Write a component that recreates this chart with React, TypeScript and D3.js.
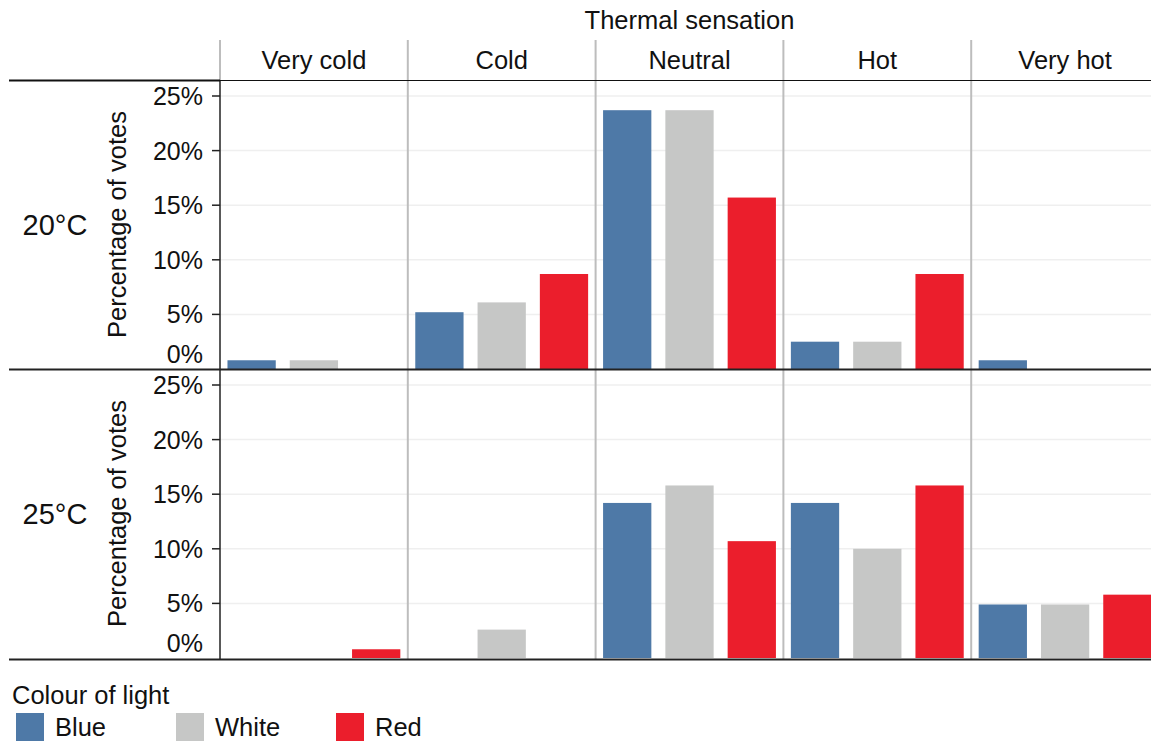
import React from 'react';
import * as d3 from 'd3';

const categories = ['Very cold', 'Cold', 'Neutral', 'Hot', 'Very hot'];
const lights = ['Blue', 'White', 'Red'];
const temps = ['20°C', '25°C'];
const yTicks = [0, 5, 10, 15, 20, 25];

// percentage of votes, one array per light colour and temperature
const blue20 = [0.8, 5.2, 23.7, 2.5, 0.8];
const white20 = [0.8, 6.1, 23.7, 2.5, 0];
const red20 = [0, 8.7, 15.7, 8.7, 0];
const blue25 = [0, 0, 14.2, 14.2, 4.9];
const white25 = [0, 2.6, 15.8, 10.0, 4.9];
const red25 = [0.8, 0, 10.7, 15.8, 5.8];

const seriesByTemp = [
  [blue20, white20, red20],
  [blue25, white25, red25],
];

const colors = ['#4E79A7', '#C6C7C6', '#EB1E2C'];
const FONT = '"Liberation Sans", Arial, Helvetica, sans-serif';

const W = 1151;
const H = 742;

const App = () => {
  const col = d3.scaleBand().domain(categories).range([220, 1159]).padding(0);
  const inner = d3.scaleBand().domain(lights).range([0, col.bandwidth()])
    .paddingInner(0.225).paddingOuter(0.12);
  const color = d3.scaleOrdinal<string, string>().domain(lights).range(colors);

  const panelTops = [80, 369];
  const panelH = 289;
  const yScales = panelTops.map(t => d3.scaleLinear().domain([0, 25]).range([t + panelH, t + 16]));

  return (
    <svg width={W} height={H} style={{ position: 'absolute', left: 0, top: 0 }} fontFamily={FONT}>
      <rect width={W} height={H} fill="#fff" />
      <text x={(220 + 1159) / 2} y={29} fontSize={25.5} textAnchor="middle" fill="#111">Thermal sensation</text>
      {categories.map(c => (
        <text key={c} x={col(c)! + col.bandwidth() / 2} y={69} fontSize={25.5} textAnchor="middle" fill="#111">{c}</text>
      ))}

      {temps.map((t, ti) => {
        const y = yScales[ti];
        const top = panelTops[ti];
        const mid = top + panelH / 2;
        return (
          <g key={t}>
            {yTicks.filter(v => v > 0).map(v => (
              <line key={v} x1={220} x2={W} y1={y(v)} y2={y(v)} stroke="#efefef" strokeWidth={1.5} />
            ))}
            {seriesByTemp[ti].map((vals, li) => vals.map((v, ci) => (
              <rect key={`${li}-${ci}`} x={col(categories[ci])! + inner(lights[li])!} y={y(v)}
                width={inner.bandwidth()} height={y(0) - y(v)} fill={color(lights[li])} />
            )))}
            {yTicks.map(v => (
              <g key={v}>
                {v > 0 && <line x1={212} x2={220} y1={y(v)} y2={y(v)} stroke="#222" strokeWidth={1.5} />}
                <text x={203} y={v > 0 ? y(v) : y(v) - 15} dy="0.36em" fontSize={25} textAnchor="end" fill="#111">{v}%</text>
              </g>
            ))}
            <text transform={`translate(126,${mid}) rotate(-90)`} fontSize={25.5} textAnchor="middle" fill="#111">Percentage of votes</text>
            <text x={55} y={mid} dy="0.36em" fontSize={29} textAnchor="middle" fill="#111">{t}</text>
          </g>
        );
      })}

      {categories.slice(1).map(c => (
        <line key={c} x1={col(c)!} x2={col(c)!} y1={40} y2={659} stroke="#bdbdbd" strokeWidth={2} />
      ))}
      <line x1={220} x2={220} y1={40} y2={80} stroke="#bdbdbd" strokeWidth={2} />
      <line x1={220} x2={220} y1={80} y2={660} stroke="#222" strokeWidth={1.5} />
      <line x1={9} x2={220} y1={80.5} y2={80.5} stroke="#111" strokeWidth={2} />
      <line x1={220} x2={W} y1={80.5} y2={80.5} stroke="#111" strokeWidth={1} />
      <line x1={9} x2={W} y1={369.5} y2={369.5} stroke="#222" strokeWidth={2} />
      <line x1={9} x2={W} y1={659.5} y2={659.5} stroke="#222" strokeWidth={2} />

      <text x={12} y={704} fontSize={25.5} fill="#111">Colour of light</text>
      {lights.map((l, i) => (
        <g key={l} transform={`translate(${16 + i * 160},713)`}>
          <rect width={28} height={28} fill={color(l)} />
          <text x={39} y={14} dy="0.36em" fontSize={25.5} fill="#111">{l}</text>
        </g>
      ))}
    </svg>
  );
};

export default App;
